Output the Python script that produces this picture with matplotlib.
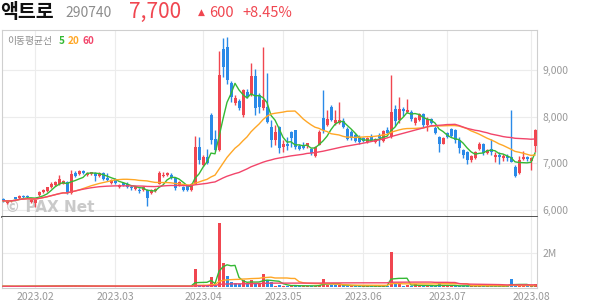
import matplotlib
matplotlib.use('Agg')
import matplotlib.pyplot as plt
import numpy as np
import pandas as pd
from matplotlib.ticker import FixedLocator, FuncFormatter

plt.rcParams['font.family'] = ['Noto Sans CJK KR', 'DejaVu Sans']

# ---------------- data ----------------
opens = [6220, 6150, 6190, 6260, 6240, 6300, 6290, 6170, 6140, 6310,
         6370, 6390, 6490, 6520, 6550, 6560, 6600, 6350, 6780, 6770,
         6830, 6740, 6760, 6780, 6720, 6780, 6670, 6580, 6650, 6480,
         6580, 6560, 6490, 6450, 6430, 6430, 6420, 6360, 6390, 6560,
         6720, 6750, 6750, 6670, 6530, 6490, 6500, 6420, 6560, 7350,
         6960, 7120, 8030, 7510, 7280, 9460, 9500, 8710, 8300, 8340,
         8030, 8530, 8460, 8870, 8460, 8175, 8210, 7780, 7495, 7780,
         7350, 7410, 7670, 7700, 7365, 7365, 7365, 7300, 7150, 7390,
         7960, 7820, 8210, 7850, 7860, 7900, 7740, 7660, 7600, 7560,
         7530, 7460, 7560, 7460, 7600, 7480, 7710, 7560, 8160, 7920,
         8160, 8100, 8100, 7860, 7920, 8060, 7820, 7950, 7760, 7560,
         7420, 7640, 7740, 7720, 7500, 7270, 7240, 7060, 7100, 7300,
         7420, 7210, 7300, 7130, 7170, 7100, 7160, 7120, 6920, 6780,
         7080, 7140, 7040, 7360]
highs = [6240, 6200, 6210, 6280, 6310, 6320, 6310, 6220, 6210, 6400,
         6450, 6490, 6600, 6620, 6740, 6640, 6620, 6850, 6830, 6850,
         6860, 6800, 6810, 6800, 6800, 6810, 6780, 6660, 6680, 6560,
         6600, 6600, 6520, 6510, 6470, 6500, 6440, 6440, 6470, 6820,
         6800, 6800, 6790, 6700, 6620, 6510, 6520, 6580, 7580, 7560,
         7180, 7310, 8070, 7700, 9410, 9680, 9710, 8760, 8470, 8380,
         8600, 8600, 9140, 9030, 8500, 9500, 8930, 7920, 7820, 7800,
         7495, 7560, 7680, 7720, 7400, 7450, 7440, 7330, 7370, 7710,
         8570, 8140, 8245, 8150, 8310, 7960, 7770, 7700, 7640, 7600,
         7560, 7560, 7630, 7540, 7650, 7720, 7780, 8890, 8250, 8430,
         8200, 8380, 8130, 8000, 8080, 8080, 8000, 7970, 7800, 7580,
         7560, 7660, 7760, 7740, 7570, 7300, 7260, 7170, 7260, 7460,
         7440, 7310, 7520, 7240, 7240, 7190, 7200, 8130, 6950, 7150,
         7250, 7160, 7120, 7740]
lows = [6170, 6120, 6170, 6220, 6230, 6240, 6250, 6150, 6060, 6290,
        6350, 6380, 6470, 6500, 6530, 6540, 6340, 6340, 6700, 6750,
        6760, 6720, 6740, 6620, 6700, 6630, 6620, 6560, 6550, 6460,
        6500, 6470, 6430, 6430, 6360, 6400, 6080, 6330, 6370, 6540,
        6690, 6720, 6660, 6430, 6500, 6390, 6400, 6400, 6540, 6990,
        6930, 6990, 7420, 7250, 7250, 8850, 8700, 8320, 8250, 8150,
        7980, 8400, 8440, 8030, 8070, 8140, 7850, 7350, 7390, 7210,
        7245, 7280, 7350, 7300, 7290, 7300, 7330, 7180, 7130, 7380,
        7640, 7800, 7900, 7820, 7840, 7750, 7500, 7500, 7450, 7420,
        7450, 7430, 7470, 7430, 7360, 7460, 7620, 7530, 7800, 7870,
        8010, 8080, 7900, 7820, 7900, 7780, 7680, 7830, 7620, 7240,
        7400, 7540, 7560, 7440, 7220, 7100, 6980, 7030, 7090, 7280,
        7180, 7190, 7170, 7030, 6990, 7040, 7040, 7020, 6700, 6760,
        7060, 7050, 6840, 7240]
closes = [6190, 6180, 6190, 6230, 6290, 6270, 6270, 6200, 6200, 6380,
          6420, 6480, 6560, 6600, 6650, 6620, 6350, 6760, 6730, 6830,
          6780, 6790, 6800, 6720, 6780, 6660, 6640, 6630, 6570, 6530,
          6530, 6490, 6460, 6490, 6390, 6490, 6250, 6410, 6450, 6780,
          6750, 6790, 6680, 6460, 6600, 6420, 6430, 6560, 7350, 7070,
          7140, 7010, 7500, 7270, 8890, 9070, 8790, 8430, 8390, 8175,
          8570, 8430, 8870, 8175, 8210, 8350, 7890, 7495, 7670, 7315,
          7400, 7370, 7530, 7340, 7310, 7315, 7435, 7210, 7350, 7670,
          7710, 7940, 7925, 7920, 7930, 7770, 7520, 7530, 7480, 7450,
          7480, 7540, 7490, 7520, 7530, 7695, 7640, 8100, 7900, 8160,
          8110, 8140, 7950, 7960, 8060, 7810, 7940, 7850, 7640, 7420,
          7540, 7570, 7580, 7500, 7330, 7170, 7060, 7150, 7240, 7420,
          7210, 7290, 7230, 7170, 7130, 7150, 7100, 7030, 6720, 7060,
          7130, 7080, 7100, 7700]
volumes_k = [22, 18, 15, 25, 30, 20, 17, 19, 35, 42,
             38, 45, 40, 36, 48, 30, 55, 60, 33, 28,
             25, 22, 20, 30, 24, 26, 20, 18, 22, 19,
             17, 21, 18, 16, 20, 22, 45, 25, 28, 52,
             30, 26, 24, 35, 28, 22, 20, 30, 1040, 100,
             60, 50, 570, 120, 3730, 1370, 630, 290, 240, 180,
             390, 180, 390, 200, 200, 750, 390, 290, 60, 100,
             50, 50, 60, 70, 40, 40, 50, 40, 60, 100,
             450, 120, 100, 80, 90, 70, 60, 50, 40, 40,
             30, 40, 35, 30, 40, 60, 40, 2060, 140, 140,
             60, 80, 50, 140, 60, 50, 40, 40, 50, 200,
             50, 40, 40, 50, 60, 60, 50, 40, 40, 60,
             40, 30, 50, 30, 30, 25, 30, 450, 80, 60,
             40, 30, 40, 150]

month_pos = [8, 28, 50, 70, 90, 111, 132]
month_labels = ['2023.02', '2023.03', '2023.04', '2023.05', '2023.06', '2023.07', '2023.08']
price_ticks = [6000, 7000, 8000, 9000]
vol_ticks = [2_000_000]
ma_windows = [5, 20, 60]

# ---------------- styling ----------------
RED = '#f04650'
BLUE = '#2a8ae8'
MA_COLORS = ['#35b935', '#ffa726', '#f2456a']
GRID = '#ececec'
TXT = '#999999'

W, H = 594, 304
fig = plt.figure(figsize=(W / 100, H / 100), dpi=100)


def fx(px):
    return px / W


def fy(py):
    return 1 - py / H


ax = fig.add_axes([fx(2), fy(217), fx(537) - fx(2), fy(30) - fy(217)])
axv = fig.add_axes([fx(2), fy(288), fx(537) - fx(2), fy(217) - fy(288)], sharex=ax)

df = pd.DataFrame({'o': opens, 'h': highs, 'l': lows, 'c': closes,
                   'v': np.array(volumes_k) * 1000.0})
x = np.arange(len(df))
up = df['c'] >= df['o']
ccol = np.where(up, RED, BLUE)

# candles
ax.vlines(x, df['l'], df['h'], colors=ccol, linewidth=1.0, zorder=3)
body_b = np.minimum(df['o'], df['c'])
body_h = np.maximum(np.abs(df['c'] - df['o']), 18)
ax.bar(x, body_h, bottom=body_b, width=0.75, color=ccol, linewidth=0, zorder=4)

# moving averages
for w, col in zip(ma_windows, MA_COLORS):
    ma = df['c'].rolling(w, min_periods=1).mean()
    ax.plot(x, ma, color=col, linewidth=1.0, zorder=5)

ax.set_xlim(-0.25, 133.5)
ax.set_ylim(5840, 9860)
ax.yaxis.tick_right()
ax.yaxis.set_major_locator(FixedLocator(price_ticks))
ax.yaxis.set_major_formatter(FuncFormatter(lambda v, p: f'{int(v):,}'))
ax.tick_params(axis='y', length=0, pad=4, labelsize=7.5, labelcolor=TXT)
ax.tick_params(axis='x', length=0, labelbottom=False)
ax.xaxis.set_major_locator(FixedLocator(month_pos))
ax.grid(True, color=GRID, linewidth=0.8, zorder=0)
ax.set_axisbelow(True)
for s in ['top', 'right', 'left']:
    ax.spines[s].set_color('#cfcfcf')
    ax.spines[s].set_linewidth(0.8)
ax.spines['bottom'].set_color('#333333')
ax.spines['bottom'].set_linewidth(1.2)

# watermark
ax.text(0.006, 0.01, '© PAX Net', transform=ax.transAxes, fontsize=11,
        fontweight='bold', color='#bdbdbd', alpha=0.8, ha='left', va='bottom',
        family=['DejaVu Sans'], zorder=2, clip_on=True)

# legend text
fig.text(fx(7), fy(41), '이동평균선', fontsize=7, color='#8c8c8c', va='center', ha='left')
fig.text(fx(59), fy(41), '5', fontsize=7.2, color=MA_COLORS[0], va='center', ha='left', fontweight='bold')
fig.text(fx(67.5), fy(41), '20', fontsize=7.2, color=MA_COLORS[1], va='center', ha='left', fontweight='bold')
fig.text(fx(82.5), fy(41), '60', fontsize=7.2, color=MA_COLORS[2], va='center', ha='left', fontweight='bold')

# volume panel
prev_c = df['c'].shift(1).fillna(df['o'])
vcol = np.where(df['c'] >= prev_c, RED, BLUE)
axv.bar(x, df['v'], width=0.75, color=vcol, linewidth=0, zorder=3)
for w, col in zip(ma_windows, MA_COLORS):
    mav = df['v'].rolling(w, min_periods=1).mean()
    axv.plot(x, mav, color=col, linewidth=1.0, zorder=4)
axv.set_ylim(-80000, 4_100_000)
axv.yaxis.tick_right()
axv.yaxis.set_major_locator(FixedLocator(vol_ticks))
axv.yaxis.set_major_formatter(FuncFormatter(lambda v, p: f'{int(v / 1e6)}M'))
axv.tick_params(axis='y', length=0, pad=4, labelsize=7.5, labelcolor=TXT)
axv.xaxis.set_major_locator(FixedLocator(month_pos))
axv.set_xticklabels(month_labels)
axv.tick_params(axis='x', length=0, pad=3, labelsize=7.5, labelcolor=TXT)
axv.grid(True, color=GRID, linewidth=0.8, zorder=0)
axv.set_axisbelow(True)
for s in ['right', 'left', 'bottom']:
    axv.spines[s].set_color('#cfcfcf')
    axv.spines[s].set_linewidth(0.8)
axv.spines['top'].set_visible(False)

# header
fig.text(fx(0), fy(13), '액트로', fontsize=14, fontweight='bold', color='#111111', va='center', ha='left')
fig.text(fx(65), fy(13), '290740', fontsize=10, color='#8c8c8c', va='center', ha='left')
fig.text(fx(129), fy(12), '7,700', fontsize=15, color=RED, va='center', ha='left')
fig.text(fx(198), fy(12), '▲', fontsize=6.5, color=RED, va='center', ha='left', family=['DejaVu Sans'])
fig.text(fx(209), fy(13), '600', fontsize=10.5, color=RED, va='center', ha='left')
fig.text(fx(242), fy(13), '+8.45%', fontsize=10.5, color=RED, va='center', ha='left')

fig.savefig('out.png', dpi=100)
